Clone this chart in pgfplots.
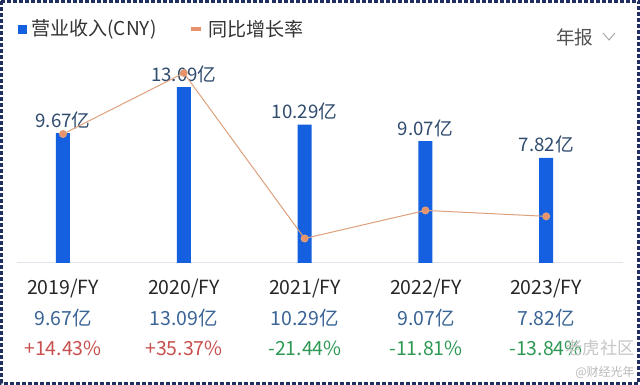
\documentclass[border=0pt]{standalone}
\usepackage{pgfplots}
\pgfplotsset{compat=1.18}
\usepackage{fontspec}
\setmainfont{Noto Sans CJK SC}
\definecolor{barblue}{HTML}{1560E0}
\definecolor{lineor}{HTML}{DDA07C}
\definecolor{dotor}{HTML}{E8916A}
\definecolor{vallab}{HTML}{2F4B6E}
\definecolor{botval}{HTML}{3B6496}
\definecolor{redt}{HTML}{C8504F}
\definecolor{greent}{HTML}{2E9955}
\definecolor{legt}{HTML}{333333}
\definecolor{bord}{HTML}{1F2F5F}
\definecolor{basel}{HTML}{E0E4EA}
\begin{document}
\fontsize{14}{16}\selectfont
\begin{tikzpicture}
\path[use as bounding box] (0,0) rectangle (480pt,288.75pt);
\fill[white] (0,0) rectangle (480pt,288.75pt);
\pgfplotsset{common/.style={at={(0,0)},anchor=south west, scale only axis, width=480pt, height=288.75pt, hide axis, clip=false, xmin=-0.5215, xmax=4.7765}}
\begin{scope}[x=0.75pt,y=-0.75pt,shift={(0,288.75pt)}]
\draw[basel, line width=0.75pt] (17,263) -- (623,263);
\end{scope}
\begin{axis}[common, ymin=-9.077, ymax=19.568, ybar, bar width=10.5pt,
  /pgf/number format/assume math mode=true,
  nodes near coords={\pgfmathprintnumber[fixed,fixed zerofill,precision=2]{\pgfplotspointmeta}亿},
  every node near coord/.append style={anchor=base, yshift=4.5pt, inner sep=0pt, text=vallab, font=\fontsize{14}{16}\selectfont}]
\addplot[fill=barblue, draw=none] coordinates {(0,9.67) (1,13.09) (2,10.29) (3,9.07) (4,7.82)};
\end{axis}
\begin{axis}[common, ymin=-71.74, ymax=60.43]
\addplot[color=lineor, line width=0.75pt, mark=*, mark size=2.6pt, mark options={fill=dotor, draw=none}] coordinates {(0,14.43) (1,35.37) (2,-21.44) (3,-11.81) (4,-13.84)};
\end{axis}
\begin{scope}[x=0.75pt,y=-0.75pt,shift={(0,288.75pt)}]
% legend
\fill[barblue] (18,25) rectangle (27,34);
\node[anchor=west, inner sep=0pt, text=legt, font=\fontsize{14.3}{16}\selectfont] at (31,29.5) {营业收入(CNY)};
\fill[dotor] (191,27.5) rectangle (201,31.5);
\node[anchor=west, inner sep=0pt, text=legt, font=\fontsize{14.3}{16}\selectfont] at (208,29.5) {同比增长率};
\node[anchor=west, inner sep=0pt, text=legt!85] at (556,37) {年报};
\draw[gray!70, line width=0.7pt] (603,33) -- (609,40) -- (615,33);
% category rows
\begin{scope}[font=\fontsize{14.6}{17}\selectfont]
\foreach \x/\yr/\v in {63/2019/9.67, 184/2020/13.09, 305/2021/10.29, 426/2022/9.07, 546/2023/7.82}{
  \node[text=black!85, inner sep=0pt] at (\x,289) {\yr/FY};
  \node[text=botval, inner sep=0pt] at (\x,318) {\v 亿};
}
\node[text=redt, inner sep=0pt] at (63,348) {+14.43\%};
\node[text=redt, inner sep=0pt] at (184,348) {+35.37\%};
\node[text=greent, inner sep=0pt] at (305,348) {-21.44\%};
\node[text=greent, inner sep=0pt] at (426,348) {-11.81\%};
\node[text=greent, inner sep=0pt] at (546,348) {-13.84\%};
\end{scope}
% watermarks
\node[text=gray!45, inner sep=0pt, font=\fontsize{13}{15}\selectfont] at (600,348) {老虎社区};
\node[text=gray!55, inner sep=0pt, font=\fontsize{9}{11}\selectfont] at (605,372) {@财经光年};
% border
\draw[bord, line width=2.2pt, dash pattern=on 3pt off 1.5pt] (1.5,1.5) rectangle (638.5,383.5);
\end{scope}
\end{tikzpicture}
\end{document}
